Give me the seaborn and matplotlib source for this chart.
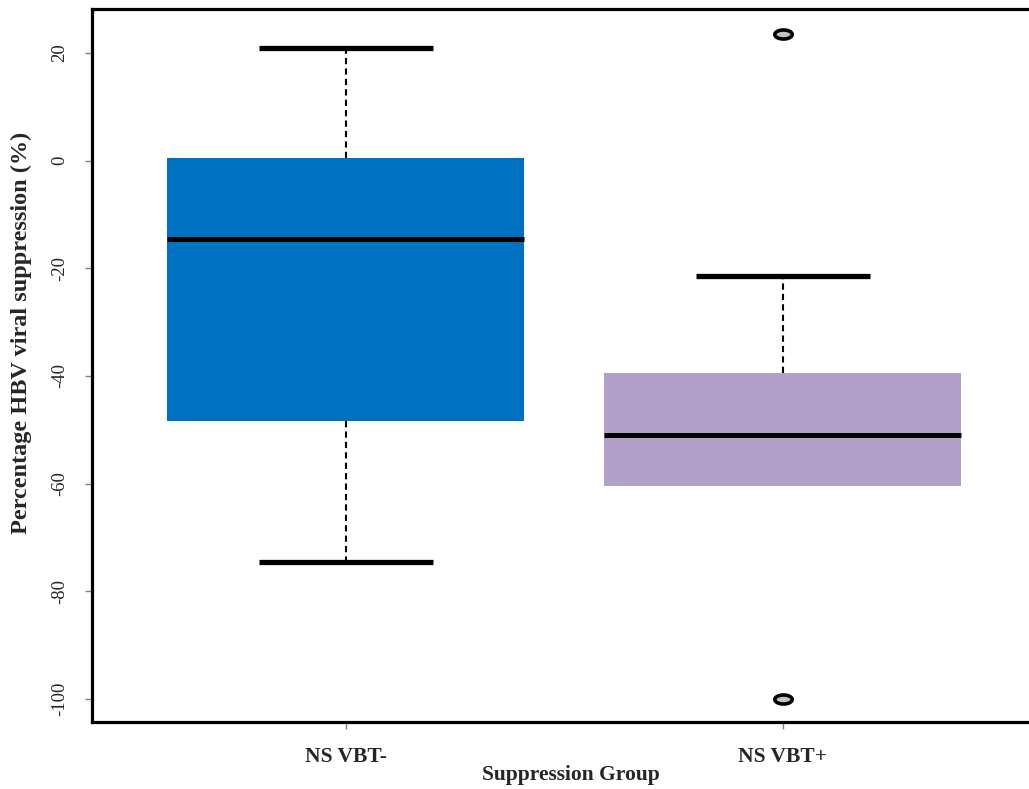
import numpy as np
import pandas as pd
import matplotlib
matplotlib.use("Agg")
import matplotlib.pyplot as plt
from matplotlib.path import Path
import seaborn as sns

# Summary statistics per suppression group
groups = ["NS VBT-", "NS VBT+"]
whisker_low = [-74.6, -60.5]
q1 = [-48.3, -60.5]
median = [-14.5, -51.0]
q3 = [0.5, -39.5]
whisker_high = [21.0, -21.5]
outliers = [[], [-100.0, 23.5]]
box_colors = ["#0070C0", "#B1A0C7"]

y_ticks = [20, 0, -20, -40, -60, -80, -100]


def expand(lo, a, m, b, hi, extra):
    # Sample points whose quartiles and whiskers reproduce the summary values
    return [lo, a, a, m, m, b, b, hi] + list(extra)


rows = []
for g, lo, a, m, b, hi, ex in zip(groups, whisker_low, q1, median, q3, whisker_high, outliers):
    for v in expand(lo, a, m, b, hi, ex):
        rows.append({"group": g, "value": v})
df = pd.DataFrame(rows)

sns.set_style("white")
plt.rcParams["font.family"] = ["Liberation Serif", "DejaVu Serif"]

fig = plt.figure(figsize=(10.29, 7.89), dpi=100)
ax = fig.add_axes([92 / 1029, 1 - 722 / 789, 1 - 92 / 1029, (722 - 9) / 789])

# Flattened ellipse marker for outliers
t = np.linspace(0, 2 * np.pi, 60)
ellipse = Path(np.column_stack([np.cos(t), 0.52 * np.sin(t)]), closed=True)

sns.boxplot(
    data=df, x="group", y="value", hue="group", order=groups, hue_order=groups,
    palette=box_colors, saturation=1, width=0.817, whis=1.5, legend=False,
    linecolor="black", fliersize=12.5, ax=ax, capwidths=0.40,
    boxprops=dict(edgecolor="none", linewidth=0),
    medianprops=dict(color="black", linewidth=3.6, solid_capstyle="butt"),
    whiskerprops=dict(color="black", linewidth=1.5, linestyle=(0, (3, 2))),
    capprops=dict(color="black", linewidth=3.8, solid_capstyle="butt"),
    flierprops=dict(marker=ellipse, markersize=12.5, markerfacecolor="#c4c4c4",
                    markeredgecolor="black", markeredgewidth=2.6),
)

# Drop the cap that sits on a box edge when the whisker has zero length
for i, (lo, a) in enumerate(zip(whisker_low, q1)):
    if lo == a:
        for ln in ax.lines:
            xd, yd = np.asarray(ln.get_xdata(), float), np.asarray(ln.get_ydata(), float)
            if len(yd) == 2 and np.allclose(yd, lo) and abs(xd.mean() - i) < 0.01:
                if abs(abs(xd[1] - xd[0]) - 0.40) < 0.01:
                    ln.set_visible(False)

ax.set_xlim(-0.581, 1.563)
ax.set_ylim(-104.27, 28.17)
ax.set_yticks(y_ticks)
ax.set_yticklabels([str(v) for v in y_ticks], rotation=90, va="center", fontsize=13.5)
ax.set_xticks(range(len(groups)))
ax.set_xticklabels(groups, fontsize=15.5, fontweight="bold")

ax.tick_params(axis="y", direction="out", length=5, width=1, color="#808080", pad=12, left=True)
ax.tick_params(axis="x", direction="out", length=5, width=1, color="#808080", pad=13, bottom=True)

for side in ["left", "top", "bottom"]:
    ax.spines[side].set_visible(True)
    ax.spines[side].set_color("black")
    ax.spines[side].set_linewidth(2.3)
ax.spines["right"].set_visible(False)

ax.set_xlabel("Suppression Group", fontsize=15.5, fontweight="bold")
ax.set_ylabel("Percentage HBV viral suppression (%)", fontsize=17.5, fontweight="bold")
ax.xaxis.set_label_coords(0.511, -0.060)
ax.yaxis.set_label_coords(-0.064, 0.5456)

fig.savefig("out.png", dpi=100)
